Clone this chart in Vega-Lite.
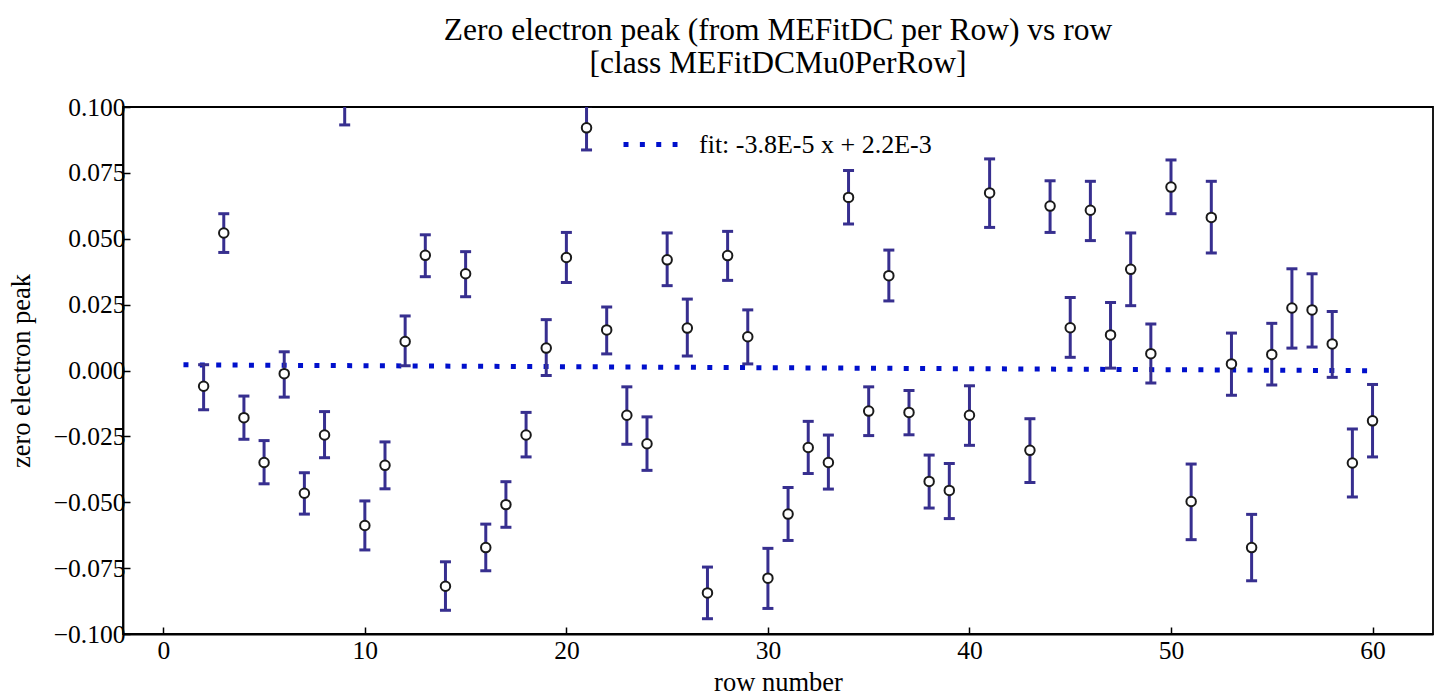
{
  "$schema": "https://vega.github.io/schema/vega-lite/v6.json",
  "width": 1310,
  "height": 527,
  "autosize": {"type": "none"},
  "padding": {"left": 123, "top": 107, "right": 12, "bottom": 64},
  "background": "white",
  "title": {
    "text": ["Zero electron peak (from MEFitDC per Row) vs row", "[class MEFitDCMu0PerRow]"],
    "font": "Liberation Serif",
    "fontSize": 31.5,
    "fontWeight": "normal",
    "color": "black",
    "lineHeight": 33,
    "offset": 16,
    "anchor": "middle"
  },
  "config": {
    "view": {"stroke": "black", "strokeWidth": 1.8},
    "axis": {
      "labelFont": "Liberation Serif",
      "labelFontSize": 25.5,
      "labelColor": "black",
      "titleFont": "Liberation Serif",
      "titleFontSize": 26.5,
      "titleFontWeight": "normal",
      "titleColor": "black",
      "domainColor": "black",
      "domainWidth": 1.8,
      "tickColor": "black",
      "tickWidth": 1.5,
      "tickSize": -7,
      "grid": false
    },
    "legend": {
      "labelFont": "Liberation Serif",
      "labelFontSize": 26,
      "labelColor": "black",
      "labelLimit": 0
    }
  },
  "datasets": {
    "pts": [
      {"row": 2, "peak": -0.0060, "lo": -0.0149, "hi": 0.0022},
      {"row": 3, "peak": 0.0522, "lo": 0.0448, "hi": 0.0595},
      {"row": 4, "peak": -0.0179, "lo": -0.0261, "hi": -0.0097},
      {"row": 5, "peak": -0.0349, "lo": -0.0430, "hi": -0.0266},
      {"row": 6, "peak": -0.0012, "lo": -0.0101, "hi": 0.0071},
      {"row": 7, "peak": -0.0466, "lo": -0.0545, "hi": -0.0388},
      {"row": 8, "peak": -0.0245, "lo": -0.0331, "hi": -0.0156},
      {"row": 9, "peak": 0.1025, "lo": 0.0932, "hi": 0.1120},
      {"row": 10, "peak": -0.0588, "lo": -0.0681, "hi": -0.0495},
      {"row": 11, "peak": -0.0360, "lo": -0.0449, "hi": -0.0271},
      {"row": 12, "peak": 0.0110, "lo": 0.0018, "hi": 0.0207},
      {"row": 13, "peak": 0.0437, "lo": 0.0356, "hi": 0.0515},
      {"row": 14, "peak": -0.0819, "lo": -0.0910, "hi": -0.0726},
      {"row": 15, "peak": 0.0367, "lo": 0.0280, "hi": 0.0451},
      {"row": 16, "peak": -0.0672, "lo": -0.0760, "hi": -0.0583},
      {"row": 17, "peak": -0.0509, "lo": -0.0595, "hi": -0.0422},
      {"row": 18, "peak": -0.0245, "lo": -0.0328, "hi": -0.0159},
      {"row": 19, "peak": 0.0085, "lo": -0.0019, "hi": 0.0193},
      {"row": 20, "peak": 0.0429, "lo": 0.0334, "hi": 0.0524},
      {"row": 21, "peak": 0.0921, "lo": 0.0837, "hi": 0.1005},
      {"row": 22, "peak": 0.0154, "lo": 0.0063, "hi": 0.0241},
      {"row": 23, "peak": -0.0170, "lo": -0.0280, "hi": -0.0062},
      {"row": 24, "peak": -0.0278, "lo": -0.0379, "hi": -0.0176},
      {"row": 25, "peak": 0.0420, "lo": 0.0322, "hi": 0.0522},
      {"row": 26, "peak": 0.0161, "lo": 0.0055, "hi": 0.0271},
      {"row": 27, "peak": -0.0844, "lo": -0.0942, "hi": -0.0746},
      {"row": 28, "peak": 0.0436, "lo": 0.0342, "hi": 0.0528},
      {"row": 29, "peak": 0.0128, "lo": 0.0025, "hi": 0.0230},
      {"row": 30, "peak": -0.0788, "lo": -0.0903, "hi": -0.0675},
      {"row": 31, "peak": -0.0545, "lo": -0.0645, "hi": -0.0444},
      {"row": 32, "peak": -0.0292, "lo": -0.0391, "hi": -0.0193},
      {"row": 33, "peak": -0.0349, "lo": -0.0450, "hi": -0.0245},
      {"row": 34, "peak": 0.0657, "lo": 0.0556, "hi": 0.0759},
      {"row": 35, "peak": -0.0154, "lo": -0.0247, "hi": -0.0062},
      {"row": 36, "peak": 0.0360, "lo": 0.0264, "hi": 0.0457},
      {"row": 37, "peak": -0.0159, "lo": -0.0244, "hi": -0.0076},
      {"row": 38, "peak": -0.0421, "lo": -0.0522, "hi": -0.0321},
      {"row": 39, "peak": -0.0455, "lo": -0.0562, "hi": -0.0353},
      {"row": 40, "peak": -0.0170, "lo": -0.0284, "hi": -0.0058},
      {"row": 41, "peak": 0.0674, "lo": 0.0543, "hi": 0.0803},
      {"row": 43, "peak": -0.0303, "lo": -0.0425, "hi": -0.0183},
      {"row": 44, "peak": 0.0624, "lo": 0.0524, "hi": 0.0720},
      {"row": 45, "peak": 0.0162, "lo": 0.0050, "hi": 0.0277},
      {"row": 46, "peak": 0.0608, "lo": 0.0493, "hi": 0.0718},
      {"row": 47, "peak": 0.0135, "lo": 0.0009, "hi": 0.0258},
      {"row": 48, "peak": 0.0384, "lo": 0.0246, "hi": 0.0522},
      {"row": 49, "peak": 0.0064, "lo": -0.0047, "hi": 0.0176},
      {"row": 50, "peak": 0.0696, "lo": 0.0595, "hi": 0.0799},
      {"row": 51, "peak": -0.0497, "lo": -0.0642, "hi": -0.0355},
      {"row": 52, "peak": 0.0581, "lo": 0.0446, "hi": 0.0718},
      {"row": 53, "peak": 0.0025, "lo": -0.0094, "hi": 0.0142},
      {"row": 54, "peak": -0.0672, "lo": -0.0798, "hi": -0.0546},
      {"row": 55, "peak": 0.0061, "lo": -0.0055, "hi": 0.0179},
      {"row": 56, "peak": 0.0237, "lo": 0.0085, "hi": 0.0386},
      {"row": 57, "peak": 0.0230, "lo": 0.0089, "hi": 0.0367},
      {"row": 58, "peak": 0.0101, "lo": -0.0026, "hi": 0.0224},
      {"row": 59, "peak": -0.0351, "lo": -0.0480, "hi": -0.0222},
      {"row": 60, "peak": -0.0191, "lo": -0.0328, "hi": -0.0053}
    ],
    "fit": [
      {"row": 1, "peak": 0.00216},
      {"row": 60, "peak": -0.00008}
    ]
  },
  "layer": [
    {
      "data": {"name": "fit"},
      "mark": {"type": "line", "strokeWidth": 5, "strokeDash": [5, 11.37], "strokeCap": "butt", "clip": true},
      "encoding": {
        "x": {
          "field": "row", "type": "quantitative",
          "scale": {"domain": [-2, 63], "nice": false, "zero": false},
          "axis": {"values": [0, 10, 20, 30, 40, 50, 60], "format": "d", "labelPadding": 11, "title": "row number", "titleY": 56, "titleBaseline": "alphabetic"},
          "title": "row number"
        },
        "y": {
          "field": "peak", "type": "quantitative",
          "scale": {"domain": [-0.1, 0.1], "nice": false, "zero": false},
          "axis": {"values": [-0.1, -0.075, -0.05, -0.025, 0, 0.025, 0.05, 0.075, 0.1], "format": ".3f", "labelPadding": 5, "title": "zero electron peak", "titleX": -94, "titleY": 263.5, "titleBaseline": "alphabetic"},
          "title": "zero electron peak"
        },
        "color": {
          "datum": "fit: -3.8E-5 x + 2.2E-3",
          "type": "nominal",
          "scale": {"range": ["#0010cc"]},
          "legend": {
            "title": null,
            "orient": "none",
            "legendX": 498,
            "legendY": 8,
            "padding": 0,
            "symbolType": "stroke",
            "symbolSize": 2916,
            "symbolStrokeWidth": 5,
            "symbolDash": [5, 11.37],
            "labelOffset": 19,
            "labelLimit": 0
          }
        }
      }
    },
    {
      "data": {"name": "pts"},
      "mark": {"type": "rule", "color": "#372f8f", "strokeWidth": 3, "clip": true},
      "encoding": {
        "x": {"field": "row", "type": "quantitative", "title": "row number"},
        "y": {"field": "lo", "type": "quantitative", "title": "zero electron peak"},
        "y2": {"field": "hi"}
      }
    },
    {
      "data": {"name": "pts"},
      "transform": [{"fold": ["lo", "hi"], "as": ["end", "val"]}],
      "mark": {"type": "tick", "orient": "horizontal", "color": "#372f8f", "size": 11, "thickness": 3, "opacity": 1, "clip": true},
      "encoding": {
        "x": {"field": "row", "type": "quantitative", "title": "row number"},
        "y": {"field": "val", "type": "quantitative", "title": "zero electron peak"}
      }
    },
    {
      "data": {"name": "pts"},
      "mark": {"type": "point", "shape": "circle", "filled": true, "fill": "white", "stroke": "#1a1a1a", "strokeWidth": 2, "size": 90, "opacity": 1, "clip": true},
      "encoding": {
        "x": {"field": "row", "type": "quantitative", "title": "row number"},
        "y": {"field": "peak", "type": "quantitative", "title": "zero electron peak"}
      }
    }
  ]
}
